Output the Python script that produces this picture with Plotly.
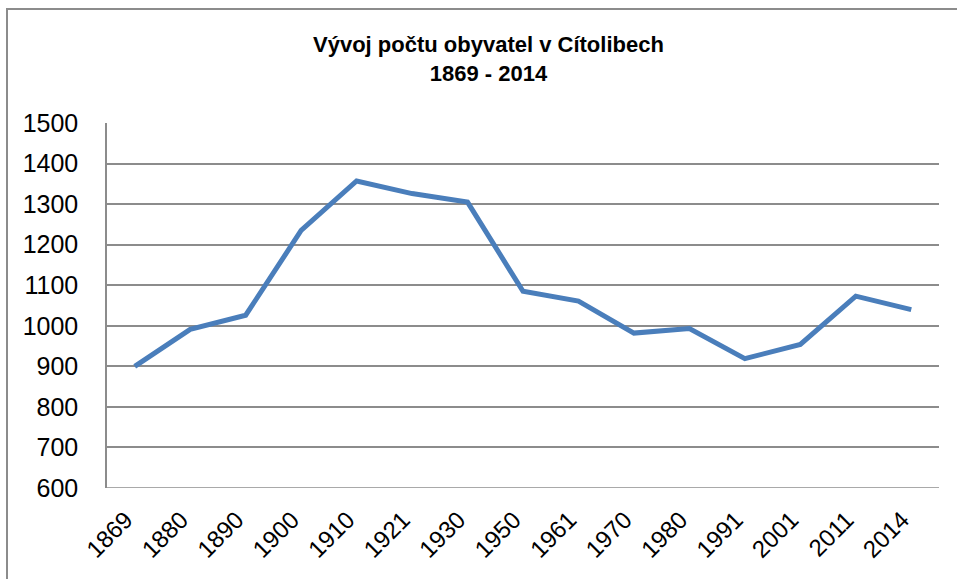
import plotly.graph_objects as go

years = ["1869", "1880", "1890", "1900", "1910", "1921", "1930", "1950",
         "1961", "1970", "1980", "1991", "2001", "2011", "2014"]
population = [900, 991, 1026, 1235, 1357, 1326, 1305, 1085,
              1061, 982, 993, 919, 954, 1073, 1040]
y_ticks = [600, 700, 800, 900, 1000, 1100, 1200, 1300, 1400, 1500]

FONT = "Arial, Liberation Sans, sans-serif"
W, H = 957, 579
L, T = 107, 123
R = W - 939
B = H - 488
pw, ph = W - L - R, H - T - B

fig = go.Figure()
fig.add_trace(go.Scatter(
    x=years, y=population, mode="lines",
    line=dict(color="#4a7ebb", width=5),
    showlegend=False, hoverinfo="x+y",
))

fig.update_layout(
    width=W, height=H,
    margin=dict(l=L, r=R, t=T, b=B),
    paper_bgcolor="white", plot_bgcolor="white",
    font=dict(family=FONT, color="black"),
    xaxis=dict(
        type="category", tickangle=-45, showgrid=False,
        tickfont=dict(size=24, family=FONT), ticks="",
        showline=False, zeroline=False,
        range=[-0.5, len(years) - 0.5],
        ticklabelstandoff=12, ticklabelshift=-9,
    ),
    yaxis=dict(
        range=[600, 1500], tickvals=y_ticks, showgrid=True,
        gridcolor="#8c8c8c", gridwidth=1.5,
        showline=True, linecolor="#8c8c8c", linewidth=1.5,
        tickfont=dict(size=25, family=FONT), ticks="",
        zeroline=False, ticklabelstandoff=22,
    ),
    annotations=[dict(
        text="<b>Vývoj počtu obyvatel v Cítolibech<br>1869 - 2014</b>",
        xref="paper", yref="paper", x=(488 - L) / pw, y=(488 - 30) / ph,
        xanchor="center", yanchor="top", showarrow=False,
        font=dict(size=22, family=FONT, color="black"),
    )],
    shapes=[
        dict(type="rect", xref="paper", yref="paper",
             x0=(7 - L) / pw, x1=(965 - L) / pw,
             y0=(488 - 590) / ph, y1=(488 - 9) / ph,
             line=dict(color="#8c8c8c", width=2), fillcolor="rgba(0,0,0,0)",
             layer="below"),
        dict(type="line", xref="paper", yref="y",
             x0=0, x1=1, y0=600, y1=600,
             line=dict(color="#8c8c8c", width=1.5)),
    ],
)

fig.write_html(
    "out.html",
    config={"displayModeBar": False},
    post_script="document.body.style.margin='0';document.body.style.overflow='hidden';",
)
